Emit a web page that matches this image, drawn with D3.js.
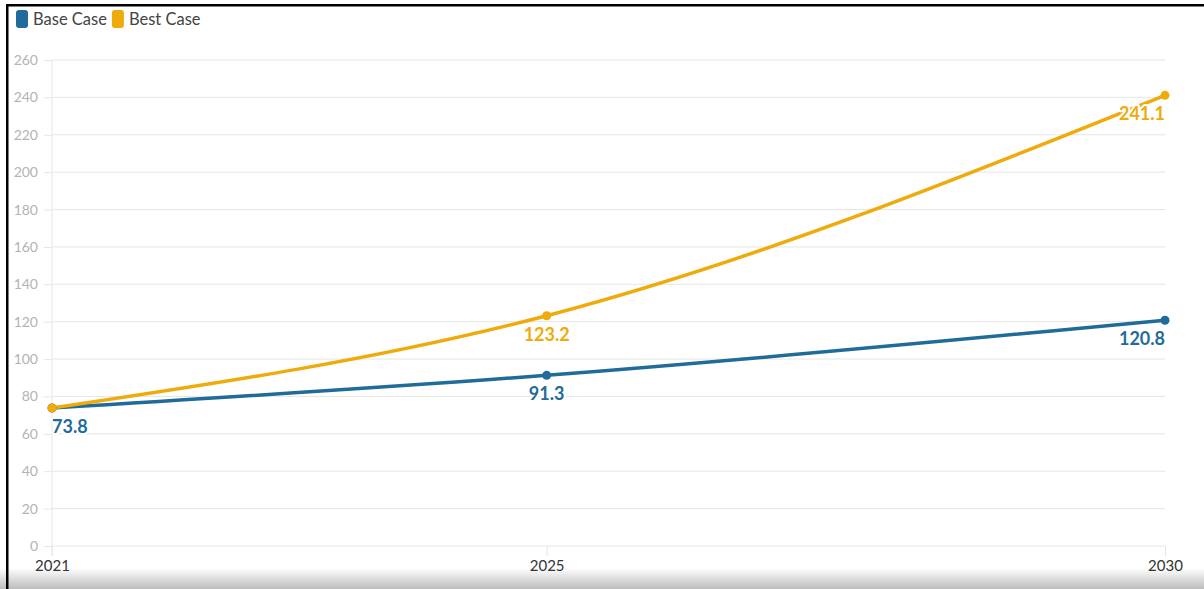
<!DOCTYPE html>
<html>
<head>
<meta charset="utf-8">
<script src="https://cdn.jsdelivr.net/npm/d3@7"></script>
<style>
  html, body { margin: 0; padding: 0; background: #fff; }
  svg { display: block; }
</style>
</head>
<body>
<svg id="chart" width="1204" height="589"></svg>
<script>
// Data
const years = [2021, 2025, 2030];
const baseCase = [73.8, 91.3, 120.8];
const bestCase = [73.8, 123.2, 241.1];
const seriesNames = ["Base Case", "Best Case"];
const seriesColors = ["#1f6b99", "#eeab0b"];
const yTicks = [0, 20, 40, 60, 80, 100, 120, 140, 160, 180, 200, 220, 240, 260];

const W = 1204, H = 589;
const margin = { left: 52, right: 39, top: 60, bottom: 43 };
const svg = d3.select("#chart");
const font = "Lato, 'Source Sans Pro', sans-serif";

// Frame and bottom shading
const defs = svg.append("defs");
const grad = defs.append("linearGradient").attr("id", "shade")
  .attr("x1", 0).attr("y1", 0).attr("x2", 0).attr("y2", 1);
grad.append("stop").attr("offset", "0%").attr("stop-color", "#ffffff");
grad.append("stop").attr("offset", "100%").attr("stop-color", "#bdbdbd");
svg.append("rect").attr("x", 0).attr("y", 568).attr("width", W).attr("height", H - 568)
  .attr("fill", "url(#shade)");
svg.append("rect").attr("x", 0).attr("y", 0).attr("width", W).attr("height", 4).attr("fill", "#fff");
svg.append("rect").attr("x", 6).attr("y", 4).attr("width", W - 6).attr("height", 2.5).attr("fill", "#000");
svg.append("rect").attr("x", 6).attr("y", 4).attr("width", 2.5).attr("height", H - 4).attr("fill", "#000");

const x = d3.scaleLinear().domain([2021, 2030]).range([margin.left, W - margin.right]);
const y = d3.scaleLinear().domain([0, 260]).range([H - margin.bottom, margin.top]);

// Gridlines + y tick labels
const yAxis = svg.append("g").attr("transform", `translate(${margin.left},0)`)
  .call(d3.axisLeft(y).tickValues(yTicks).tickSize(8).tickPadding(6).tickFormat(d3.format("d")));
yAxis.select(".domain").remove();
yAxis.selectAll(".tick line").attr("stroke", "#e6e6e6");
yAxis.selectAll(".tick text").attr("fill", "#b3b3b3").style("font-family", font).style("font-size", "14px");
svg.append("g").selectAll("line").data(yTicks).join("line")
  .attr("x1", margin.left).attr("x2", W - margin.right)
  .attr("y1", d => y(d)).attr("y2", d => y(d))
  .attr("stroke", "#e6e6e6").attr("stroke-width", 1);

// Y axis line
svg.append("line").attr("x1", margin.left).attr("x2", margin.left)
  .attr("y1", y(260)).attr("y2", y(0) + 10).attr("stroke", "#e6e6e6");

// X axis
const xAxis = svg.append("g").attr("transform", `translate(0,${y(0)})`)
  .call(d3.axisBottom(x).tickValues(years).tickSize(10).tickPadding(4).tickFormat(d3.format("d")));
xAxis.select(".domain").remove();
xAxis.selectAll(".tick line").attr("stroke", "#e6e6e6");
xAxis.selectAll(".tick text").attr("fill", "#333").style("font-family", font).style("font-size", "15px");

// Lines
const series = [baseCase, bestCase];
const line = d3.line().x((d, i) => x(years[i])).y(d => y(d)).curve(d3.curveMonotoneX);
series.forEach((vals, s) => {
  svg.append("path").datum(vals).attr("d", line)
    .attr("fill", "none").attr("stroke", seriesColors[s]).attr("stroke-width", 3.5)
    .attr("stroke-linecap", "round");
});
series.forEach((vals, s) => {
  svg.append("g").selectAll("circle").data(vals).join("circle")
    .attr("cx", (d, i) => x(years[i])).attr("cy", d => y(d))
    .attr("r", 4.5).attr("fill", seriesColors[s]);
});

// Value labels (the shared first point is labelled once)
const anchors = ["start", "middle", "end"];
series.forEach((vals, s) => {
  vals.forEach((v, i) => {
    if (s === 1 && i === 0) return;
    svg.append("text")
      .attr("x", x(years[i])).attr("y", y(v) + 25)
      .attr("text-anchor", anchors[i])
      .style("font-family", font).style("font-size", "18px").style("font-weight", "bold")
      .attr("fill", seriesColors[s])
      .attr("stroke", "#fff").attr("stroke-width", 4).attr("paint-order", "stroke")
      .attr("stroke-linejoin", "round")
      .text(v.toFixed(1));
  });
});

// Legend
let lx = 16;
seriesNames.forEach((name, s) => {
  svg.append("rect").attr("x", lx).attr("y", 10).attr("width", 12).attr("height", 18)
    .attr("rx", 3).attr("fill", seriesColors[s]);
  const t = svg.append("text").attr("x", lx + 17).attr("y", 25)
    .style("font-family", font).style("font-size", "16.5px").attr("fill", "#444").text(name);
  lx += 17 + t.node().getComputedTextLength() + 5;
});
</script>
</body>
</html>
